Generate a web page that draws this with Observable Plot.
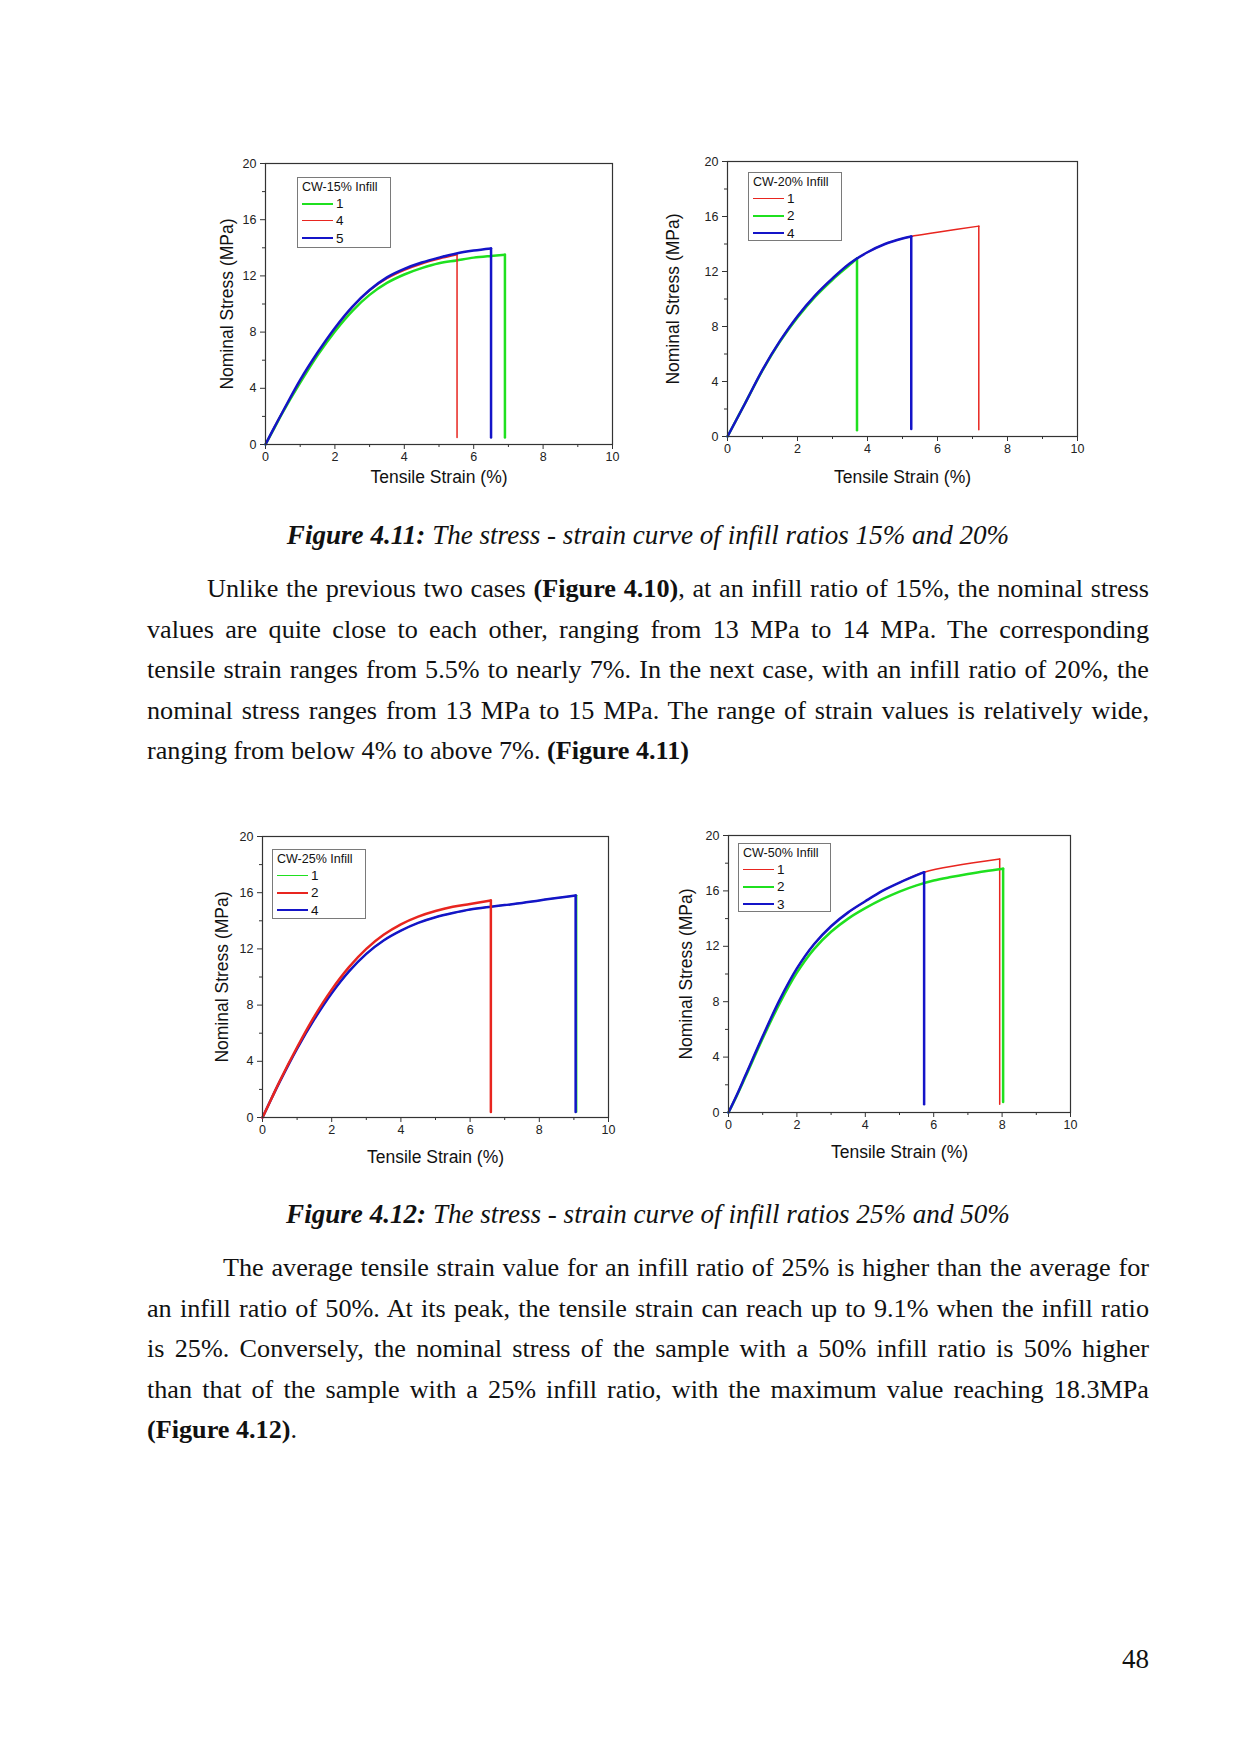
<!DOCTYPE html>
<html>
<head>
<meta charset="utf-8">
<script src="https://cdn.jsdelivr.net/npm/d3@7"></script>
<script src="https://cdn.jsdelivr.net/npm/@observablehq/plot@0.6"></script>
<style>
  html, body { margin: 0; padding: 0; background: #fff; }
  body { width: 1240px; height: 1754px; position: relative; overflow: hidden; }
  .chart { position: absolute; }
  .legend { position: absolute; background: #fff; border: 1px solid #7a7a7a;
            font-family: "Liberation Sans", Arial, sans-serif; font-size: 12.5px; color: #111;
            box-sizing: border-box; padding: 1px 4px; }
  .legend .ttl { line-height: 16px; white-space: nowrap; }
  .legend .row { height: 17.3px; line-height: 17.3px; font-size: 13.5px; white-space: nowrap; display: flex; align-items: center; }
  .legend .sw { display: inline-block; width: 31px; margin-right: 3px; }
  .serif { position: absolute; font-family: "Liberation Serif", "Times New Roman", serif; font-size: 27.1px; color: #111; }
  .para { left: 147px; width: 1002px; line-height: 40.6px; font-size: 26.2px; }
  .para div { text-align: justify; text-align-last: justify; }
  .para div.last { text-align: left; text-align-last: left; }
  .cap { left: 147px; width: 1002px; text-align: center; font-style: italic; line-height: 40px; }
</style>
</head>
<body>
<script>
// ---------- data (strain %, stress MPa) ----------
const xTicks = [0, 2, 4, 6, 8, 10];
const xMinor = [1, 3, 5, 7, 9];
const yTicks = [0, 4, 8, 12, 16, 20];
const yMinor = [2, 6, 10, 14, 18];

const cw15_1 = [[0,0],[0.25,1.15],[0.5,2.3],[1,4.4],[1.5,6.35],[2,8.05],[2.5,9.5],[3,10.65],[3.5,11.5],[4,12.1],[4.5,12.55],[5,12.9],[5.5,13.1],[6,13.3],[6.5,13.42],[6.9,13.5],[6.9,0.5]];
const cw15_4 = [[0,0],[0.25,1.2],[0.5,2.35],[1,4.55],[1.5,6.5],[2,8.25],[2.5,9.75],[3,10.95],[3.5,11.8],[4,12.4],[4.5,12.85],[5,13.2],[5.52,13.5],[5.52,0.5]];
const cw15_5 = [[0,0],[0.25,1.2],[0.5,2.35],[1,4.6],[1.5,6.55],[2,8.3],[2.5,9.8],[3,11.0],[3.5,11.9],[4,12.5],[4.5,12.95],[5,13.3],[5.5,13.6],[6,13.8],[6.5,13.95],[6.5,0.5]];

const cw20_1 = [[0,0],[0.25,1.2],[0.5,2.4],[1,4.85],[1.5,6.95],[2,8.75],[2.5,10.25],[3,11.5],[3.5,12.6],[4,13.4],[4.5,14.0],[5,14.4],[5.25,14.55],[6,14.85],[7.18,15.3],[7.18,0.5]];
const cw20_2 = [[0,0],[0.25,1.2],[0.5,2.4],[1,4.8],[1.5,6.9],[2,8.65],[2.5,10.15],[3,11.4],[3.5,12.5],[3.7,12.95],[3.7,0.45]];
const cw20_4 = [[0,0],[0.25,1.2],[0.5,2.4],[1,4.85],[1.5,6.95],[2,8.75],[2.5,10.25],[3,11.5],[3.5,12.6],[4,13.4],[4.5,14.0],[5,14.4],[5.25,14.55],[5.25,0.55]];

const cw25_1 = [[0,0],[0.25,1.3],[0.5,2.55],[1,4.9],[1.5,7.0],[2,8.85],[2.5,10.4],[3,11.65],[3.5,12.6],[4,13.3],[4.5,13.85],[5,14.25],[5.5,14.55],[6,14.8],[6.6,15.0],[7,15.12],[7.5,15.27],[8,15.45],[8.5,15.62],[9.08,15.8],[9.08,0.4]];
const cw25_2 = [[0,0],[0.25,1.3],[0.5,2.6],[1,5.0],[1.5,7.2],[2,9.1],[2.5,10.7],[3,12.0],[3.5,13.0],[4,13.75],[4.5,14.3],[5,14.7],[5.5,15.0],[6,15.2],[6.6,15.45],[6.6,0.4]];
const cw25_4 = [[0,0],[0.25,1.3],[0.5,2.55],[1,4.9],[1.5,7.0],[2,8.85],[2.5,10.4],[3,11.65],[3.5,12.6],[4,13.3],[4.5,13.85],[5,14.25],[5.5,14.55],[6,14.8],[6.6,15.0],[7,15.12],[7.5,15.27],[8,15.45],[8.5,15.62],[9.05,15.8],[9.05,0.4]];

const cw50_1 = [[0,0],[0.25,1.3],[0.5,2.7],[1,5.5],[1.5,8.15],[2,10.4],[2.5,12.15],[3,13.45],[3.5,14.45],[4,15.25],[4.5,16.0],[5,16.6],[5.72,17.35],[7.93,18.3],[7.93,0.6]];
const cw50_2 = [[0,0],[0.25,1.25],[0.5,2.6],[1,5.35],[1.5,7.9],[2,10.1],[2.5,11.8],[3,13.05],[3.5,14.0],[4,14.75],[4.5,15.4],[5,15.95],[5.5,16.4],[6,16.75],[6.5,17.0],[7,17.22],[7.5,17.42],[8.03,17.6],[8.03,0.75]];
const cw50_3 = [[0,0],[0.25,1.3],[0.5,2.7],[1,5.5],[1.5,8.15],[2,10.4],[2.5,12.15],[3,13.45],[3.5,14.45],[4,15.25],[4.5,16.0],[5,16.6],[5.72,17.35],[5.72,0.6]];

const GREEN = "#1fe01f", RED = "#e8251f", BLUE = "#1414c8";

// ---------- chart builder ----------
function makeChart(cfg) {
  const ml = 84, mt = 28, mr = 30, mb = 62;
  const fw = cfg.frame[2] - cfg.frame[0], fh = cfg.frame[3] - cfg.frame[1];
  const marks = [];
  for (const s of cfg.series) {
    const pts = s.data.map(([x, y]) => ({x, y}));
    const curve = pts.slice(0, -1);
    const drop = pts.slice(-2);
    marks.push(Plot.line(curve, {x: "x", y: "y", stroke: s.color, strokeWidth: s.width, curve: "catmull-rom"}));
    marks.push(Plot.line(drop, {x: "x", y: "y", stroke: s.color, strokeWidth: s.width}));
  }
  const plot = Plot.plot({
    width: fw + ml + mr, height: fh + mt + mb,
    marginLeft: ml, marginTop: mt, marginRight: mr, marginBottom: mb,
    style: {fontFamily: "'Liberation Sans', Arial, sans-serif", background: "transparent", color: "#222"},
    x: {domain: [0, 10]},
    y: {domain: [0, 20]},
    marks: [
      Plot.axisX(xTicks, {tickSize: 5, tickPadding: 3, fontSize: 12.5, label: null, stroke: "#333"}),
      Plot.axisX(xMinor, {tickSize: 3, tickFormat: () => "", label: null, stroke: "#333"}),
      Plot.axisY(yTicks, {tickSize: 5, tickPadding: 4, fontSize: 12.5, label: null, stroke: "#333"}),
      Plot.axisY(yMinor, {tickSize: 3, tickFormat: () => "", label: null, stroke: "#333"}),
      ...marks,
      Plot.frame({stroke: "#333", strokeWidth: 1.2}),
      Plot.text(["Tensile Strain (%)"], {frameAnchor: "bottom", dy: cfg.xLabelDy, lineAnchor: "middle", textAnchor: "middle", fontSize: 17.5, fill: "#111"}),
      Plot.text(["Nominal Stress (MPa)"], {frameAnchor: "left", dx: -cfg.yLabelDx, rotate: -90, textAnchor: "middle", lineAnchor: "middle", fontSize: 17.5, fill: "#111"})
    ]
  });
  plot.classList.add("chart");
  plot.style.left = (cfg.frame[0] - ml) + "px";
  plot.style.top = (cfg.frame[1] - mt) + "px";
  document.body.appendChild(plot);

  const lg = document.createElement("div");
  lg.className = "legend";
  lg.style.left = cfg.legend[0] + "px";
  lg.style.top = cfg.legend[1] + "px";
  lg.style.width = cfg.legend[2] + "px";
  lg.style.height = cfg.legend[3] + "px";
  let html = `<div class="ttl">${cfg.title}</div>`;
  for (const s of cfg.legendOrder) {
    html += `<div class="row"><span class="sw" style="border-top:${s.width}px solid ${s.color}"></span>${s.name}</div>`;
  }
  lg.innerHTML = html;
  document.body.appendChild(lg);
}

const s15 = {g: {name: "1", data: cw15_1, color: GREEN, width: 2.5}, r: {name: "4", data: cw15_4, color: RED, width: 1.5}, b: {name: "5", data: cw15_5, color: BLUE, width: 2.5}};
makeChart({frame: [265, 163, 612, 444], xLabelDy: 33, yLabelDx: 38,
  series: [s15.g, s15.r, s15.b], legendOrder: [s15.g, s15.r, s15.b],
  title: "CW-15% Infill", legend: [297, 177, 94, 71]});

const s20 = {r: {name: "1", data: cw20_1, color: RED, width: 1.5}, g: {name: "2", data: cw20_2, color: GREEN, width: 2.5}, b: {name: "4", data: cw20_4, color: BLUE, width: 2.5}};
makeChart({frame: [727, 161, 1077, 436], xLabelDy: 41, yLabelDx: 54,
  series: [s20.r, s20.g, s20.b], legendOrder: [s20.r, s20.g, s20.b],
  title: "CW-20% Infill", legend: [748, 172, 94, 69]});

const s25 = {g: {name: "1", data: cw25_1, color: GREEN, width: 1.5}, r: {name: "2", data: cw25_2, color: RED, width: 2.5}, b: {name: "4", data: cw25_4, color: BLUE, width: 2.5}};
makeChart({frame: [262, 836, 608, 1117], xLabelDy: 40, yLabelDx: 40,
  series: [s25.g, s25.b, s25.r], legendOrder: [s25.g, s25.r, s25.b],
  title: "CW-25% Infill", legend: [272, 849, 94, 70]});

const s50 = {r: {name: "1", data: cw50_1, color: RED, width: 1.5}, g: {name: "2", data: cw50_2, color: GREEN, width: 2.5}, b: {name: "3", data: cw50_3, color: BLUE, width: 2.5}};
makeChart({frame: [728, 835, 1070, 1112], xLabelDy: 40, yLabelDx: 42,
  series: [s50.r, s50.g, s50.b], legendOrder: [s50.r, s50.g, s50.b],
  title: "CW-50% Infill", legend: [738, 843, 93, 69]});
</script>

<div class="serif cap" style="top:515px"><b>Figure 4.11:</b> The stress - strain curve of infill ratios 15% and 20%</div>
<div class="serif para" style="top:569px">
  <div style="text-indent:60px">Unlike the previous two cases <b>(Figure 4.10)</b>, at an infill ratio of 15%, the nominal stress</div>
  <div>values are quite close to each other, ranging from 13 MPa to 14 MPa. The corresponding</div>
  <div>tensile strain ranges from 5.5% to nearly 7%. In the next case, with an infill ratio of 20%, the</div>
  <div>nominal stress ranges from 13 MPa to 15 MPa. The range of strain values is relatively wide,</div>
  <div class="last">ranging from below 4% to above 7%. <b>(Figure 4.11)</b></div>
</div>

<div class="serif cap" style="top:1194px"><b>Figure 4.12:</b> The stress - strain curve of infill ratios 25% and 50%</div>
<div class="serif para" style="top:1248px">
  <div style="text-indent:76px">The average tensile strain value for an infill ratio of 25% is higher than the average for</div>
  <div>an infill ratio of 50%. At its peak, the tensile strain can reach up to 9.1% when the infill ratio</div>
  <div>is 25%. Conversely, the nominal stress of the sample with a 50% infill ratio is 50% higher</div>
  <div>than that of the sample with a 25% infill ratio, with the maximum value reaching 18.3MPa</div>
  <div class="last"><b>(Figure 4.12)</b>.</div>
</div>

<div class="serif" style="left:1100px; width:49px; text-align:right; top:1639px; line-height:40px">48</div>
</body>
</html>
